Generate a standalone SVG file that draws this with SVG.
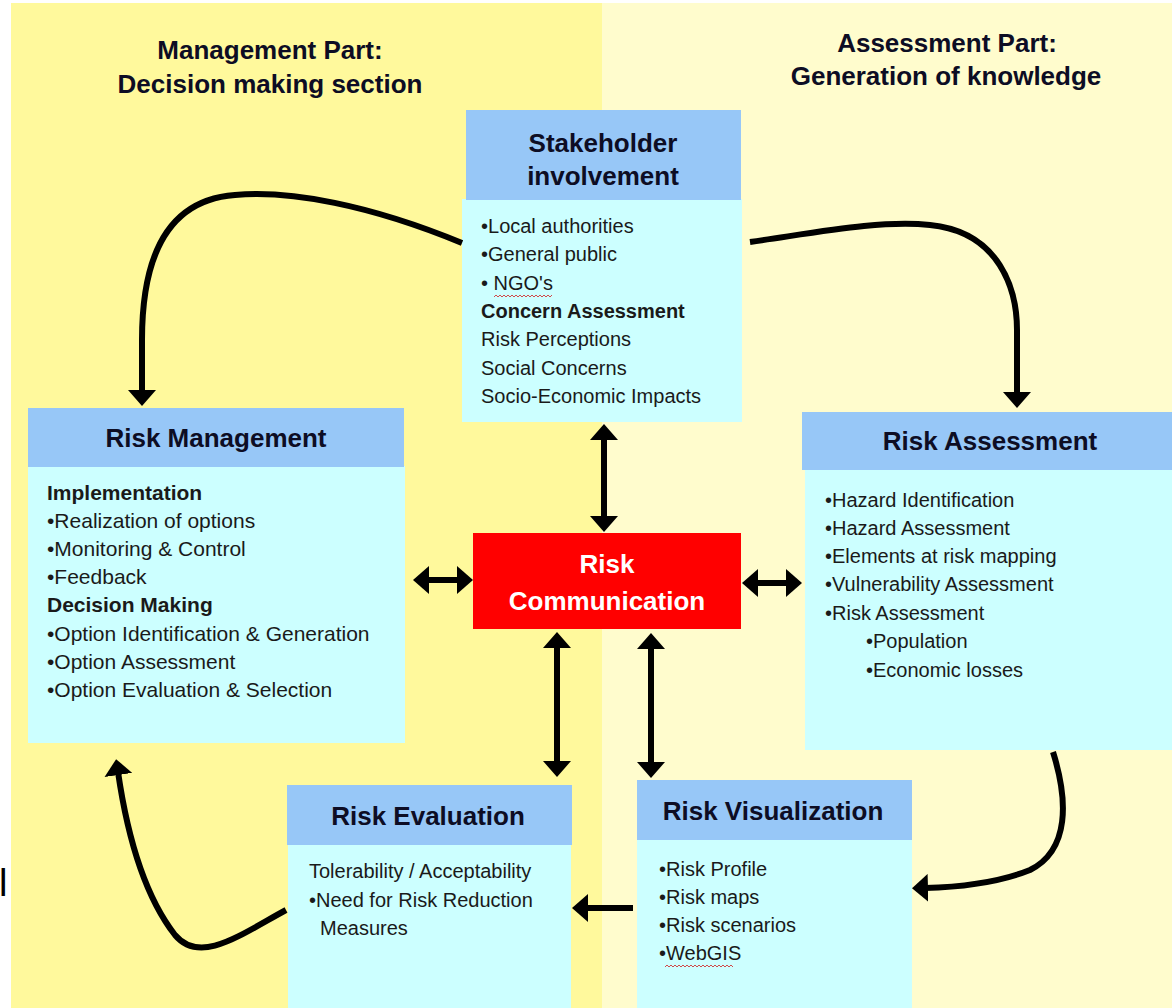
<svg xmlns="http://www.w3.org/2000/svg" width="1172" height="1008" viewBox="0 0 1172 1008">
<defs>
<style>
.t{font-family:"Liberation Sans",Arial,sans-serif;font-weight:bold;font-size:26px;fill:#0d0d24;text-anchor:middle}
.b{font-family:"Liberation Sans",Arial,sans-serif;font-size:20px;fill:#1a1a1a}
.bb{font-weight:bold}
.hd{fill:#97C7F7}
.bd{fill:#CCFFFF}
.c{fill:none;stroke:#000;stroke-width:6}
.sq{fill:none;stroke:#d04a4a;stroke-width:1}
</style>
<marker id="ah" viewBox="0 0 16 28" refX="3" refY="14" markerWidth="16" markerHeight="28" markerUnits="userSpaceOnUse" orient="auto-start-reverse">
<path d="M0,0 L16,14 L0,28 z" fill="#000"/>
</marker>
</defs>
<rect x="0" y="0" width="1172" height="1008" fill="#ffffff"/>
<rect x="11" y="3" width="591" height="1005" fill="#FFF99C"/>
<rect x="602" y="3" width="570" height="1005" fill="#FFFCCD"/>
<text x="-1" y="896" style="font-family:'Liberation Sans',Arial,sans-serif;font-size:38px;fill:#000">l</text>
<g id="header-management">
<text class="t" x="270" y="59">Management Part:</text>
<text class="t" x="270" y="93">Decision making section</text>
</g>
<g id="header-assessment">
<text class="t" x="947" y="52">Assessment Part:</text>
<text class="t" x="946" y="85">Generation of knowledge</text>
</g>
<g id="stakeholder">
<rect class="bd" x="462" y="199" width="280" height="223"/>
<rect class="hd" x="466" y="110" width="275" height="90"/>
<text class="t" x="603" y="152">Stakeholder</text>
<text class="t" x="603" y="185">involvement</text>
<text class="b" x="481" y="233">•Local authorities</text>
<text class="b" x="481" y="261">•General public</text>
<text class="b" x="481" y="290">• NGO's</text>
<path class="sq" d="M494,297 l2,-2 l2,2 l2,-2 l2,2 l2,-2 l2,2 l2,-2 l2,2 l2,-2 l2,2 l2,-2 l2,2 l2,-2 l2,2 l2,-2 l2,2 l2,-2 l2,2 l2,-2 l2,2 l2,-2 l2,2 l2,-2 l2,2 l2,-2 l2,2 l2,-2 l2,2 l2,-2"/>
<text class="b bb" x="481" y="318">Concern Assessment</text>
<text class="b" x="481" y="346">Risk Perceptions</text>
<text class="b" x="481" y="375">Social Concerns</text>
<text class="b" x="481" y="403">Socio-Economic Impacts</text>
</g>
<g id="risk-management">
<rect class="bd" x="28" y="466" width="377" height="277"/>
<rect class="hd" x="28" y="408" width="376" height="59"/>
<text class="t" x="216" y="447">Risk Management</text>
<text class="b bb" x="47" y="500" style="font-size:21px">Implementation</text>
<text class="b" x="47" y="528" style="font-size:21px">•Realization of options</text>
<text class="b" x="47" y="556" style="font-size:21px">•Monitoring &amp; Control</text>
<text class="b" x="47" y="584" style="font-size:21px">•Feedback</text>
<text class="b bb" x="47" y="612" style="font-size:21px">Decision Making</text>
<text class="b" x="47" y="641" style="font-size:21px">•Option Identification &amp; Generation</text>
<text class="b" x="47" y="669" style="font-size:21px">•Option Assessment</text>
<text class="b" x="47" y="697" style="font-size:21px">•Option Evaluation &amp; Selection</text>
</g>
<g id="risk-assessment">
<rect class="bd" x="805" y="470" width="367" height="280"/>
<rect class="hd" x="802" y="412" width="370" height="58"/>
<text class="t" x="990" y="450">Risk Assessment</text>
<text class="b" x="825" y="507">•Hazard Identification</text>
<text class="b" x="825" y="535">•Hazard Assessment</text>
<text class="b" x="825" y="563">•Elements at risk mapping</text>
<text class="b" x="825" y="591">•Vulnerability Assessment</text>
<text class="b" x="825" y="620">•Risk Assessment</text>
<text class="b" x="866" y="648">•Population</text>
<text class="b" x="866" y="677">•Economic losses</text>
</g>
<g id="risk-communication">
<rect x="473" y="533" width="268" height="96" fill="#FF0000"/>
<text class="t" x="607" y="573" style="fill:#ffffff">Risk</text>
<text class="t" x="607" y="610" style="fill:#ffffff">Communication</text>
</g>
<g id="risk-evaluation">
<rect class="bd" x="288" y="845" width="283" height="163"/>
<rect class="hd" x="287" y="785" width="285" height="60"/>
<text class="t" x="428" y="825">Risk Evaluation</text>
<text class="b" x="309" y="878">Tolerability / Acceptability</text>
<text class="b" x="309" y="907">•Need for Risk Reduction</text>
<text class="b" x="320" y="935">Measures</text>
</g>
<g id="risk-visualization">
<rect class="bd" x="637" y="840" width="275" height="168"/>
<rect class="hd" x="637" y="780" width="275" height="60"/>
<text class="t" x="773" y="820">Risk Visualization</text>
<text class="b" x="659" y="876">•Risk Profile</text>
<text class="b" x="659" y="904">•Risk maps</text>
<text class="b" x="659" y="932">•Risk scenarios</text>
<text class="b" x="659" y="960">•WebGIS</text>
<path class="sq" d="M665,967 l2,-2 l2,2 l2,-2 l2,2 l2,-2 l2,2 l2,-2 l2,2 l2,-2 l2,2 l2,-2 l2,2 l2,-2 l2,2 l2,-2 l2,2 l2,-2 l2,2 l2,-2 l2,2 l2,-2 l2,2 l2,-2 l2,2 l2,-2 l2,2 l2,-2 l2,2 l2,-2 l2,2 l2,-2 l2,2 l2,-2 l2,2"/>
</g>
<g id="connectors">
<path class="c" d="M462,243 C370,205 290,190 235,195 C165,200 142,260 142,340 L142,393" marker-end="url(#ah)"/>
<path class="c" d="M750,242 C820,232 880,220 930,225 C1000,232 1017,290 1017,330 L1017,395" marker-end="url(#ah)"/>
<path class="c" d="M1053,752 C1068,800 1070,850 1030,870 C1000,882 960,887 925,888" marker-end="url(#ah)"/>
<path class="c" d="M286,910 C240,935 200,965 175,935 C140,890 125,820 118,772" marker-end="url(#ah)"/>
<path class="c" d="M633,908 L585,908" marker-end="url(#ah)"/>
<path class="c" d="M604,437 L604,519" marker-start="url(#ah)" marker-end="url(#ah)"/>
<path class="c" d="M426,580 L460,580" marker-start="url(#ah)" marker-end="url(#ah)"/>
<path class="c" d="M755,583 L789,583" marker-start="url(#ah)" marker-end="url(#ah)"/>
<path class="c" d="M557,645 L557,764" marker-start="url(#ah)" marker-end="url(#ah)"/>
<path class="c" d="M651,646 L651,765" marker-start="url(#ah)" marker-end="url(#ah)"/>
</g>
</svg>
